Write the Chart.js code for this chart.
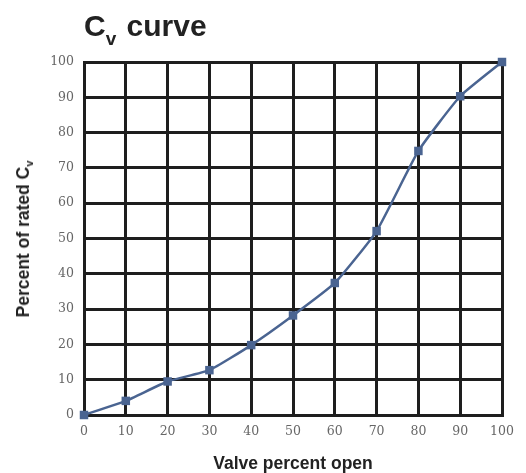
<!DOCTYPE html>
<html>
<head>
<meta charset="utf-8">
<script src="https://cdn.jsdelivr.net/npm/chart.js@4.4.1/dist/chart.umd.min.js"></script>
<style>
  html, body { margin: 0; padding: 0; background: #fff; }
  #wrap { position: relative; width: 526px; height: 473px; }
  #c { position: absolute; left: 0; top: 0; }
  #title { position: absolute; left: 84px; top: 8px; font-family: "Liberation Sans", Arial, sans-serif; font-weight: bold; font-size: 30px; color: #222; line-height: 36px; white-space: nowrap; }
  #title sub { font-size: 19px; vertical-align: -9px; line-height: 0; margin-right: 2px; }
  #ytitle { position: absolute; left: 23px; top: 239px; transform: translate(-50%, -50%) rotate(-90deg); font-family: "Liberation Sans", Arial, sans-serif; font-weight: bold; font-size: 17.5px; color: #222; white-space: nowrap; line-height: 20px; }
  #ytitle sub { font-size: 11px; vertical-align: -4px; line-height: 0; }
</style>
</head>
<body>
<div id="wrap">
  <canvas id="c" width="526" height="473"></canvas>
  <div id="title">C<sub>v</sub> curve</div>
  <div id="ytitle">Percent of rated C<sub>v</sub></div>
</div>
<script>
const valveOpen = [0, 10, 20, 30, 40, 50, 60, 70, 80, 90, 100];
const ratedCv = [0, 4, 9.5, 12.7, 19.8, 28.2, 37.4, 52.1, 74.8, 90.3, 100];
const xTicks = [0, 10, 20, 30, 40, 50, 60, 70, 80, 90, 100];
const yTicks = [0, 10, 20, 30, 40, 50, 60, 70, 80, 90, 100];
const xTitle = 'Valve percent open';

const points = valveOpen.map((x, i) => ({ x: x, y: ratedCv[i] }));
const lineColor = '#4a6491';
const gridColor = '#1e1e1e';

new Chart(document.getElementById('c'), {
  type: 'line',
  data: {
    datasets: [{
      data: points,
      borderColor: lineColor,
      backgroundColor: lineColor,
      borderWidth: 2.5,
      pointStyle: 'rect',
      pointRadius: 6,
      pointBorderWidth: 0,
      pointBackgroundColor: lineColor,
      tension: 0.15,
      fill: false,
      clip: false
    }]
  },
  options: {
    responsive: false,
    animation: false,
    layout: { padding: { left: 0, right: 24, top: 62, bottom: 0 } },
    plugins: { legend: { display: false }, tooltip: { enabled: false } },
    scales: {
      x: {
        type: 'linear',
        min: 0, max: 100,
        afterBuildTicks: s => { s.ticks = xTicks.map(v => ({ value: v })); },
        afterFit: s => { s.height = 58; },
        grid: { color: gridColor, lineWidth: 3, drawTicks: false },
        border: { color: gridColor, width: 3 },
        ticks: { padding: 9, color: '#666', font: { family: 'DejaVu Serif', size: 12.5 }, maxRotation: 0 },
        title: { display: true, text: xTitle, color: '#222', font: { family: 'Liberation Sans', weight: 'bold', size: 17.5, lineHeight: 1.0 }, padding: { top: 0, bottom: 0 } }
      },
      y: {
        type: 'linear',
        min: 0, max: 100,
        afterBuildTicks: s => { s.ticks = yTicks.map(v => ({ value: v })); },
        afterFit: s => { s.width = 84; },
        grid: { color: gridColor, lineWidth: 3, drawTicks: false },
        border: { color: gridColor, width: 3 },
        ticks: { padding: 10, color: '#666', font: { family: 'DejaVu Serif', size: 12.5 } }
      }
    }
  }
});
</script>
</body>
</html>
